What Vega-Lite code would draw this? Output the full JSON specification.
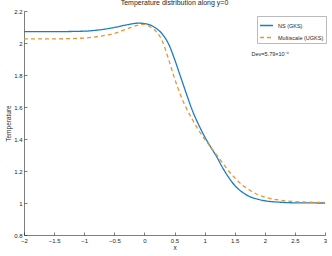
{
  "$schema": "https://vega.github.io/schema/vega-lite/v6.json",
  "autosize": {"type": "none"},
  "width": 301,
  "height": 224,
  "padding": {"left": 24, "top": 11, "right": 7, "bottom": 21},
  "background": "white",
  "config": {
    "font": "Liberation Sans",
    "view": {"stroke": null},
    "axis": {"grid": false, "domainColor": "#262626", "tickColor": "#262626", "labelColor": "#262626", "titleColor": "#262626", "labelFontSize": 6, "titleFontSize": 6.5, "titleFontWeight": "normal", "tickSize": -3, "domainWidth": 0.6, "tickWidth": 0.6}
  },
  "title": {"text": "Temperature distribution along y=0", "fontSize": 7, "fontWeight": "normal", "color": "#262626", "offset": 2},
  "datasets": {
    "curves": [
      {"x": -2.0, "T": 2.071, "series": "NS (GKS)"},
      {"x": -1.5, "T": 2.071, "series": "NS (GKS)"},
      {"x": -1.0, "T": 2.074, "series": "NS (GKS)"},
      {"x": -0.75, "T": 2.082, "series": "NS (GKS)"},
      {"x": -0.5, "T": 2.097, "series": "NS (GKS)"},
      {"x": -0.3, "T": 2.113, "series": "NS (GKS)"},
      {"x": -0.1, "T": 2.124, "series": "NS (GKS)"},
      {"x": 0.05, "T": 2.118, "series": "NS (GKS)"},
      {"x": 0.2, "T": 2.09, "series": "NS (GKS)"},
      {"x": 0.3, "T": 2.055, "series": "NS (GKS)"},
      {"x": 0.4, "T": 1.995, "series": "NS (GKS)"},
      {"x": 0.5, "T": 1.9, "series": "NS (GKS)"},
      {"x": 0.6, "T": 1.79, "series": "NS (GKS)"},
      {"x": 0.7, "T": 1.68, "series": "NS (GKS)"},
      {"x": 0.8, "T": 1.575, "series": "NS (GKS)"},
      {"x": 0.9, "T": 1.49, "series": "NS (GKS)"},
      {"x": 1.0, "T": 1.415, "series": "NS (GKS)"},
      {"x": 1.1, "T": 1.35, "series": "NS (GKS)"},
      {"x": 1.2, "T": 1.29, "series": "NS (GKS)"},
      {"x": 1.3, "T": 1.22, "series": "NS (GKS)"},
      {"x": 1.4, "T": 1.16, "series": "NS (GKS)"},
      {"x": 1.5, "T": 1.11, "series": "NS (GKS)"},
      {"x": 1.6, "T": 1.075, "series": "NS (GKS)"},
      {"x": 1.75, "T": 1.04, "series": "NS (GKS)"},
      {"x": 1.9, "T": 1.022, "series": "NS (GKS)"},
      {"x": 2.0, "T": 1.014, "series": "NS (GKS)"},
      {"x": 2.25, "T": 1.005, "series": "NS (GKS)"},
      {"x": 2.5, "T": 1.001, "series": "NS (GKS)"},
      {"x": 3.0, "T": 1.0, "series": "NS (GKS)"},
      {"x": -2.0, "T": 2.026, "series": "Multiscale (UGKS)"},
      {"x": -1.5, "T": 2.026, "series": "Multiscale (UGKS)"},
      {"x": -1.0, "T": 2.031, "series": "Multiscale (UGKS)"},
      {"x": -0.75, "T": 2.042, "series": "Multiscale (UGKS)"},
      {"x": -0.5, "T": 2.06, "series": "Multiscale (UGKS)"},
      {"x": -0.3, "T": 2.086, "series": "Multiscale (UGKS)"},
      {"x": -0.1, "T": 2.112, "series": "Multiscale (UGKS)"},
      {"x": 0.0, "T": 2.116, "series": "Multiscale (UGKS)"},
      {"x": 0.1, "T": 2.1, "series": "Multiscale (UGKS)"},
      {"x": 0.2, "T": 2.07, "series": "Multiscale (UGKS)"},
      {"x": 0.3, "T": 2.01, "series": "Multiscale (UGKS)"},
      {"x": 0.4, "T": 1.9, "series": "Multiscale (UGKS)"},
      {"x": 0.5, "T": 1.78, "series": "Multiscale (UGKS)"},
      {"x": 0.6, "T": 1.675, "series": "Multiscale (UGKS)"},
      {"x": 0.7, "T": 1.59, "series": "Multiscale (UGKS)"},
      {"x": 0.8, "T": 1.52, "series": "Multiscale (UGKS)"},
      {"x": 0.9, "T": 1.455, "series": "Multiscale (UGKS)"},
      {"x": 1.0, "T": 1.4, "series": "Multiscale (UGKS)"},
      {"x": 1.1, "T": 1.35, "series": "Multiscale (UGKS)"},
      {"x": 1.2, "T": 1.3, "series": "Multiscale (UGKS)"},
      {"x": 1.3, "T": 1.25, "series": "Multiscale (UGKS)"},
      {"x": 1.4, "T": 1.2, "series": "Multiscale (UGKS)"},
      {"x": 1.5, "T": 1.158, "series": "Multiscale (UGKS)"},
      {"x": 1.6, "T": 1.12, "series": "Multiscale (UGKS)"},
      {"x": 1.75, "T": 1.08, "series": "Multiscale (UGKS)"},
      {"x": 1.9, "T": 1.05, "series": "Multiscale (UGKS)"},
      {"x": 2.0, "T": 1.037, "series": "Multiscale (UGKS)"},
      {"x": 2.25, "T": 1.018, "series": "Multiscale (UGKS)"},
      {"x": 2.5, "T": 1.009, "series": "Multiscale (UGKS)"},
      {"x": 2.75, "T": 1.005, "series": "Multiscale (UGKS)"},
      {"x": 3.0, "T": 1.003, "series": "Multiscale (UGKS)"}
    ],
    "notes": [
      {"x": 1.78, "T": 1.93, "label": "Dev=5.79×10⁻⁴"}
    ]
  },
  "encoding": {
    "x": {"field": "x", "type": "quantitative", "scale": {"domain": [-2, 3], "nice": false}, "axis": {"values": [-2, -1.5, -1, -0.5, 0, 0.5, 1, 1.5, 2, 2.5, 3], "format": ".1~f", "labelOverlap": false, "title": "x", "labelPadding": 5, "titlePadding": 1, "labelFlush": false}},
    "y": {"field": "T", "type": "quantitative", "scale": {"domain": [0.8, 2.2], "nice": false, "zero": false}, "axis": {"values": [0.8, 1, 1.2, 1.4, 1.6, 1.8, 2, 2.2], "format": ".1~f", "labelOverlap": false, "title": "Temperature", "labelPadding": 5, "titlePadding": 2, "labelFlush": false}}
  },
  "layer": [
    {
      "data": {"name": "curves"},
      "mark": {"type": "line", "interpolate": "monotone", "strokeWidth": 1.3},
      "encoding": {
        "color": {"field": "series", "type": "nominal", "sort": ["NS (GKS)", "Multiscale (UGKS)"], "scale": {"domain": ["NS (GKS)", "Multiscale (UGKS)"], "range": ["#1A7DC2", "#EA9530"]}, "legend": {"title": null, "orient": "none", "legendX": 233, "legendY": 5, "symbolType": "stroke", "symbolSize": 170, "symbolStrokeWidth": 1.3, "labelFontSize": 5.5, "labelColor": "#262626", "strokeColor": "#bbbbbb", "padding": 2, "rowPadding": 1, "fillColor": "white"}},
        "strokeDash": {"field": "series", "type": "nominal", "sort": ["NS (GKS)", "Multiscale (UGKS)"], "scale": {"domain": ["NS (GKS)", "Multiscale (UGKS)"], "range": [[1, 0], [4, 3]]}, "legend": {"title": null, "orient": "none", "legendX": 233, "legendY": 5, "symbolType": "stroke", "symbolSize": 170, "symbolStrokeWidth": 1.3, "labelFontSize": 5.5, "labelColor": "#262626", "strokeColor": "#bbbbbb", "padding": 2, "rowPadding": 1, "fillColor": "white"}}
      }
    },
    {
      "data": {"name": "notes"},
      "mark": {"type": "text", "align": "left", "baseline": "middle", "fontSize": 5.5, "color": "#262626"},
      "encoding": {
        "text": {"field": "label"}
      }
    }
  ]
}
